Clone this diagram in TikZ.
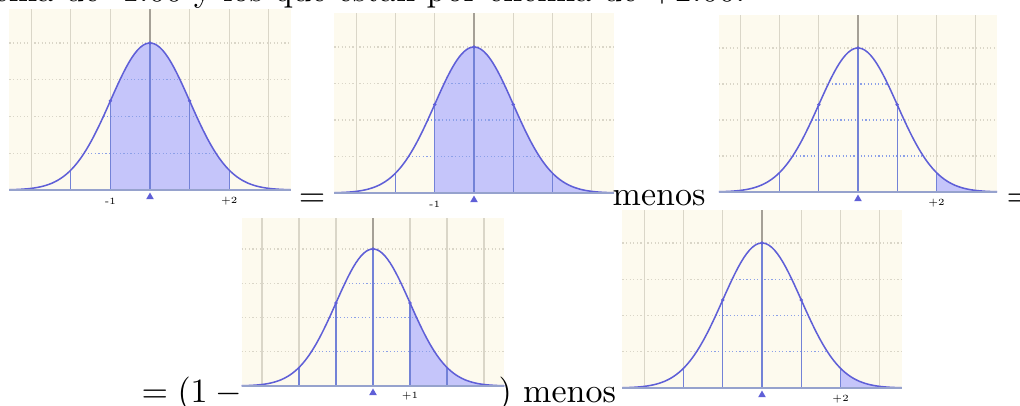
\documentclass[tikz,border=0pt]{standalone}
\usepackage{amsfonts, amssymb, amsmath}
\usepackage{xcolor}
\usepackage{tikz}
\usetikzlibrary{shapes.geometric}

\definecolor{fondo}{RGB}{253,250,238}
\definecolor{rejilla}{RGB}{218,214,200}
\definecolor{ejegris}{RGB}{165,160,150}
\definecolor{curva}{RGB}{95,95,215}
\definecolor{sombra}{RGB}{197,197,250}
\definecolor{linazul}{RGB}{115,130,215}
\definecolor{puntazul}{RGB}{140,160,232}
\definecolor{eje}{RGB}{150,162,205}

\tikzset{
  rejillav/.style={rejilla, line width=0.35pt},
  rejillah/.style={rejilla, line width=0.35pt, dash pattern=on 0.35pt off 0.7pt},
  guia/.style={linazul, line width=0.35pt},
  guiah/.style={puntazul, line width=0.35pt, dash pattern=on 0.35pt off 0.7pt},
  campana/.style={curva, line width=0.45pt},
  punto/.style={circle, fill=curva, inner sep=0pt, minimum size=1.1pt},
  etiqueta/.style={font=\fontsize{2.8}{3}\selectfont, inner sep=0pt},
  marca/.style={regular polygon, regular polygon sides=3, fill=curva, inner sep=0pt, minimum size=2.6pt, anchor=north},
  texto/.style={inner sep=0pt}
}

% #1 inicio sombra, #2 fin sombra, #3 etiquetas, #4 nombre
\newcommand{\campananormal}[4]{%
  \fill[fondo] (-3.55,0) rectangle (3.55,1.23);
  \foreach \k in {-3,...,3} \draw[rejillav] (\k,0) -- (\k,1.23);
  \draw[ejegris, line width=0.4pt] (0,1) -- (0,1.23);
  \foreach \h in {0.25,0.5,0.75,1} \draw[rejillah] (-3.55,\h) -- (3.55,\h);
  \fill[fondo] plot[domain=-3.55:3.55, samples=80] (\x,{exp(-0.5*(\x)*(\x))}) -- cycle;
  \fill[sombra] (#1,0) -- plot[domain=#1:#2, samples=50] (\x,{exp(-0.5*(\x)*(\x))}) -- (#2,0) -- cycle;
  \foreach \h in {0.25,0.5,0.75} \draw[guiah] ({-sqrt(-2*ln(\h))},\h) -- ({sqrt(-2*ln(\h))},\h);
  \foreach \k in {-2,...,2} \draw[guia] (\k,0) -- (\k,{exp(-0.5*(\k)*(\k))});
  \draw[campana] plot[domain=-3.55:3.55, samples=100] (\x,{exp(-0.5*(\x)*(\x))});
  \foreach \k in {-1,0,1} \node[punto] (#4-p\k) at (\k,{exp(-0.5*(\k)*(\k))}) {};
  \draw[eje, line width=0.6pt] (-3.55,0) -- (3.55,0);
  \node[marca] (#4-marca) at (0,-0.008) {};
  \foreach \p/\t in {#3} \node[etiqueta] (#4-e\p) at (\p,-0.076) {\t};
}

\begin{document}
\begin{tikzpicture}[x=0.294pt, y=-0.294pt]
  \useasboundingbox (0,0) rectangle (1020,405);
  \clip (0,0) rectangle (1020,405);

  \node[texto, anchor=base west] (frase) at (-7,1.5) {ema de -1.00 y los que están por encima de +2.00.};

  \begin{scope}[shift={(150,190)}, xscale=39.6, yscale=-147]
    \campananormal{-1}{2}{-1/-1,2/+2}{p1}
  \end{scope}
  \begin{scope}[shift={(474,193)}, xscale=39.3, yscale=-146]
    \campananormal{-1}{3.55}{-1/-1}{p2}
  \end{scope}
  \begin{scope}[shift={(858,192)}, xscale=39.2, yscale=-144]
    \campananormal{2}{3.55}{2/+2}{p3}
  \end{scope}
  \begin{scope}[shift={(373,386)}, xscale=37, yscale=-137]
    \campananormal{1}{3.55}{1/+1}{p4}
  \end{scope}
  \begin{scope}[shift={(762,388)}, xscale=39.3, yscale=-145]
    \campananormal{2}{3.55}{2/+2}{p5}
  \end{scope}

  \node[texto, anchor=base] (igual1) at (312,206) {$=$};
  \node[texto, anchor=base west] (menos1) at (612,205) {menos};
  \node[texto, anchor=base west] (igual2) at (1006,206) {$=$};
  \node[texto, anchor=base west] (inicio) at (141,402) {$=(1-{}$};
  \node[texto, anchor=base west] (menos2) at (498,402) {) menos};
\end{tikzpicture}
\end{document}
